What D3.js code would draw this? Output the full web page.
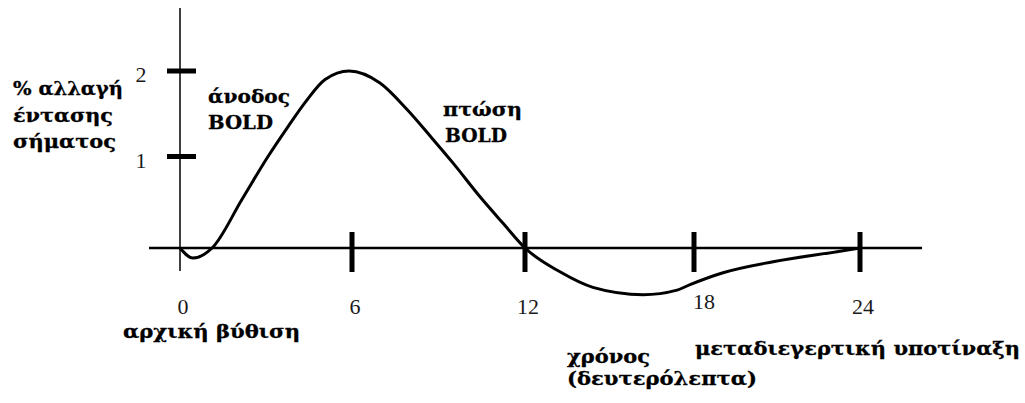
<!DOCTYPE html>
<html>
<head>
<meta charset="utf-8">
<script src="https://cdn.jsdelivr.net/npm/d3@7"></script>
<style>
  html, body { margin: 0; padding: 0; background: #fff; }
  svg { display: block; }
  .lbl { font-family: "DejaVu Serif", serif; font-weight: bold; font-size: 18.5px; fill: #000; stroke: #000; stroke-width: 0.3px; }
  .tick-num { font-family: "Liberation Serif", "Times New Roman", serif; font-size: 22px; fill: #1a1a1a; }
</style>
</head>
<body>
<svg id="chart" width="1025" height="403"></svg>
<script>
// Haemodynamic (BOLD) response: time in seconds vs % signal change
const times  = [0, 0.45, 1.12, 2.16, 3.07, 3.77, 4.36, 5.06, 5.9, 6.97, 7.91, 8.81, 9.5, 10.44, 11.24, 12, 13.24, 14.41, 16.19, 17.4, 17.86, 19.05, 20.86, 23.17, 24];
const signal = [0, -0.11, 0, 0.53, 1.0, 1.35, 1.63, 1.9, 2.0, 1.86, 1.55, 1.2, 0.93, 0.56, 0.27, 0, -0.26, -0.43, -0.51, -0.46, -0.4, -0.27, -0.15, -0.04, 0];

const xTicks = [6, 12, 18, 24];
const xTickLabels = ["0", "6", "12", "18", "24"];
const xLabelValues = [0, 6, 12, 18, 24];
const yTicks = [1, 2];
const yTickLabels = ["1", "2"];

const yTitle = ["% αλλαγή", "έντασης", "σήματος"];
const riseLabel = ["άνοδος", "BOLD"];
const fallLabel = ["πτώση", "BOLD"];
const dipLabel = "αρχική βύθιση";
const xTitle = ["χρόνος", "(δευτερόλεπτα)"];
const undershootLabel = "μεταδιεγερτική υποτίναξη";

const svg = d3.select("#chart");

// Piecewise-linear scales following the drawn tick spacing
const x = d3.scaleLinear().domain([0, 6, 12, 18, 24]).range([180, 352, 525, 694, 860]);
const y = d3.scaleLinear().domain([0, 1, 2]).range([248, 156.5, 71]);

// Axes lines
svg.append("line")
  .attr("x1", x(0)).attr("x2", x(0))
  .attr("y1", 8).attr("y2", 271)
  .attr("stroke", "#000").attr("stroke-width", 1.5);

svg.append("line")
  .attr("x1", 149).attr("x2", 922)
  .attr("y1", y(0)).attr("y2", y(0))
  .attr("stroke", "#000").attr("stroke-width", 2.5);

// Heavy tick bars
svg.append("g").selectAll("line").data(xTicks).join("line")
  .attr("x1", d => x(d)).attr("x2", d => x(d))
  .attr("y1", y(0) - 16).attr("y2", y(0) + 24)
  .attr("stroke", "#000").attr("stroke-width", 5);

svg.append("g").selectAll("line").data(yTicks).join("line")
  .attr("x1", x(0) - 13).attr("x2", x(0) + 16)
  .attr("y1", d => y(d)).attr("y2", d => y(d))
  .attr("stroke", "#000").attr("stroke-width", 5);

// Tick numbers
const xNudge = { 18: [7, -5] };
svg.append("g").selectAll("text").data(xLabelValues).join("text")
  .attr("class", "tick-num")
  .attr("text-anchor", "middle")
  .attr("x", d => x(d) + 3 + (xNudge[d] ? xNudge[d][0] : 0))
  .attr("y", d => 314 + (xNudge[d] ? xNudge[d][1] : 0))
  .text((d, i) => xTickLabels[i]);

svg.append("g").selectAll("text").data(yTicks).join("text")
  .attr("class", "tick-num")
  .attr("text-anchor", "middle")
  .attr("x", 141)
  .attr("y", d => y(d) + 11)
  .text((d, i) => yTickLabels[i]);

// Response curve
const line = d3.line()
  .x(d => x(d[0]))
  .y(d => y(d[1]))
  .curve(d3.curveMonotoneX);

svg.append("path")
  .datum(times.map((t, i) => [t, signal[i]]))
  .attr("d", line)
  .attr("fill", "none")
  .attr("stroke", "#000")
  .attr("stroke-width", 3)
  .attr("stroke-linejoin", "round");

// Annotations
function label(text, px, py, width) {
  svg.append("text")
    .attr("class", "lbl")
    .attr("x", px).attr("y", py)
    .attr("textLength", width)
    .attr("lengthAdjust", "spacingAndGlyphs")
    .text(text);
}

label(yTitle[0], 13, 95, 110);
label(yTitle[1], 13, 122, 100);
label(yTitle[2], 13, 148, 103);

label(riseLabel[0], 208, 103, 82);
label(riseLabel[1], 208, 129, 65);

label(fallLabel[0], 443, 116, 79);
label(fallLabel[1], 445, 142, 62);

label(dipLabel, 123, 338, 177);

label(xTitle[0], 567, 363, 83);
label(xTitle[1], 567, 385, 190);

label(undershootLabel, 695, 355, 325);
</script>
</body>
</html>
